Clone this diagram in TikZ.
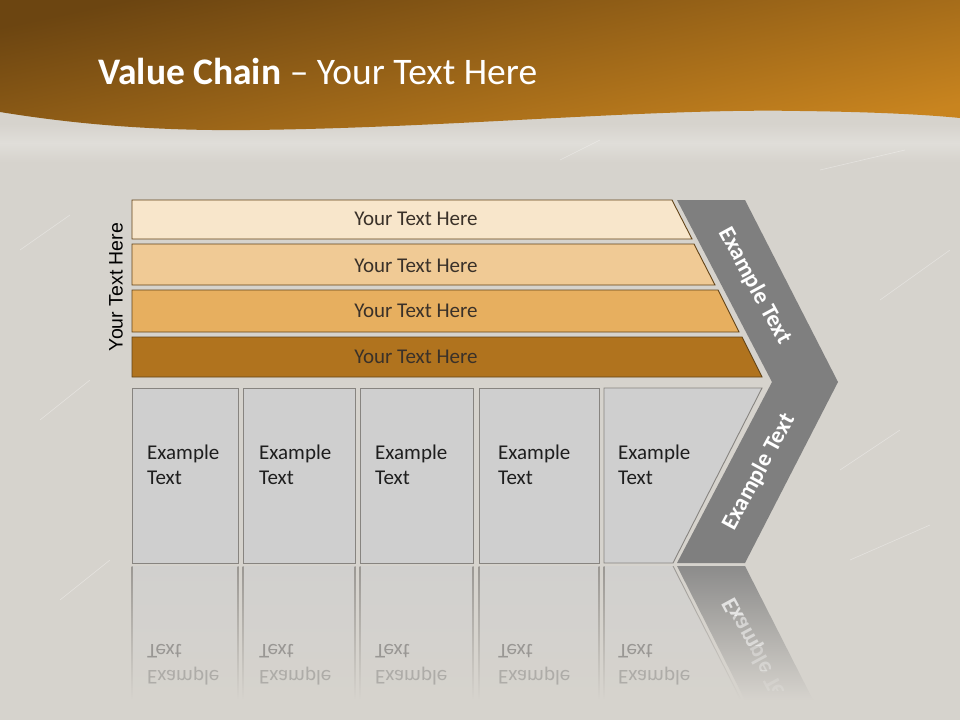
\documentclass[tikz,border=0pt]{standalone}
\usepackage{fontspec}
\setmainfont{Carlito}
\newfontfamily\arialf{Liberation Sans}
\definecolor{bg}{HTML}{D6D3CD}
\definecolor{bglight}{HTML}{E0DED9}
\definecolor{hdtop}{HTML}{6C4511}
\definecolor{hdbot}{HTML}{C8841F}
\definecolor{barA}{HTML}{F8E6CB}
\definecolor{barB}{HTML}{F0CA95}
\definecolor{barC}{HTML}{E7AF5F}
\definecolor{barD}{HTML}{B0731E}
\definecolor{barline}{HTML}{634418}
\definecolor{boxfill}{HTML}{CFCFCF}
\definecolor{boxline}{HTML}{878480}
\definecolor{chev}{HTML}{7F7F7F}
\definecolor{txt}{HTML}{1E1E1E}
\definecolor{bartxt}{HTML}{3A3129}
\definecolor{reflA}{HTML}{999794}
\definecolor{reflB}{HTML}{AEACA8}
\tikzset{
  barshape/.style={draw=barline, line width=0.9pt},
  boxshape/.style={draw=boxline, fill=boxfill, line width=0.9pt},
  bartext/.style={font=\fontsize{21}{24}\selectfont, text=bartxt, inner sep=0pt},
  boxtext/.style={font=\fontsize{21}{25.5}\selectfont, text=txt, align=left, anchor=west, inner sep=0pt},
  chevtext/.style={font=\bfseries\fontsize{23.5}{27}\selectfont, text=white, inner sep=0pt},
  refltext/.style={font=\fontsize{21}{25}\selectfont, anchor=west, inner sep=0pt, yscale=-1},
  reflfill/.style={top color=boxfill!70!bg, bottom color=bg},
  refledge/.style={top color=boxline!75!bg, bottom color=bg},
  scratch/.style={draw=white, opacity=0.35, line width=0.6pt}
}
\begin{document}
\begin{tikzpicture}[x=1pt,y=-1pt]
\useasboundingbox (0,0) rectangle (960,720);
% background
\fill[bg] (0,0) rectangle (960,720);
\shade[top color=bg, bottom color=bg, middle color=bglight] (0,124) rectangle (960,162);
% scratches
\draw[scratch] (820,170) -- (905,150);
\draw[scratch] (850,560) -- (930,525);
\draw[scratch] (40,420) -- (90,380);
\draw[scratch] (880,300) -- (950,250);
\draw[scratch] (20,250) -- (70,215);
\draw[scratch] (560,160) -- (600,140);
\draw[scratch] (840,470) -- (900,430);
\draw[scratch] (60,600) -- (110,560);
% header
\shade[top color=hdtop, bottom color=hdbot, shading angle=12]
  (0,0) -- (960,0) -- (960,118)
  .. controls (930,115) and (880,112) .. (800,111)
  .. controls (650,108) and (450,128) .. (250,130)
  .. controls (160,131) and (80,125) .. (0,112) -- cycle;
\node[anchor=base west, inner sep=0pt, text=white, font=\fontsize{37.5}{42}\selectfont] (title) at (98,84)
  {\textbf{Value Chain} – Your Text Here};
% bars
\fill[barA] (132,200) -- (672,200) -- (692,239) -- (132,239) -- cycle;
\draw[barshape] (132,200) -- (672,200) -- (692,239) -- (132,239) -- cycle;
\fill[barB] (132,244) -- (694,244) -- (715,285) -- (132,285) -- cycle;
\draw[barshape] (132,244) -- (694,244) -- (715,285) -- (132,285) -- cycle;
\fill[barC] (132,290) -- (718,290) -- (739,332) -- (132,332) -- cycle;
\draw[barshape] (132,290) -- (718,290) -- (739,332) -- (132,332) -- cycle;
\fill[barD] (132,337) -- (742,337) -- (762,377) -- (132,377) -- cycle;
\draw[barshape] (132,337) -- (742,337) -- (762,377) -- (132,377) -- cycle;
\node[bartext] (b1) at (416,219) {Your Text Here};
\node[bartext] (b2) at (416,266) {Your Text Here};
\node[bartext] (b3) at (416,311) {Your Text Here};
\node[bartext] (b4) at (416,357) {Your Text Here};
\node[font=\arialf\fontsize{19.5}{22}\selectfont, text=black, rotate=90, inner sep=0pt] (side) at (116,287) {Your Text Here};
% boxes
\draw[boxshape] (132,388) rectangle (238,563);
\draw[boxshape] (243,388) rectangle (355,563);
\draw[boxshape] (360,388) rectangle (473,563);
\draw[boxshape] (479,388) rectangle (599,563);
\draw[boxshape] (604,388) -- (762,388) -- (673,563) -- (604,563) -- cycle;
\node[boxtext] (t1) at (147,465) {Example\\Text};
\node[boxtext] (t2) at (259,465) {Example\\Text};
\node[boxtext] (t3) at (375,465) {Example\\Text};
\node[boxtext] (t4) at (498,465) {Example\\Text};
\node[boxtext] (t5) at (618,465) {Example\\Text};
% chevron
\fill[chev] (677,200) -- (745,200) -- (838,382) -- (745,563) -- (677,563) -- (772,382) -- cycle;
\node[chevtext, rotate=-61.5] (c1) at (755,286) {Example Text};
\node[chevtext, rotate=61.5] (c2) at (759,472) {Example Text};
% reflection of the boxes
\foreach \a/\b in {132/238, 243/355, 360/473, 479/599}{
  \shade[reflfill] (\a,566) rectangle (\b,700);
  \shade[refledge] (\a-0.5,566) rectangle (\a+0.5,700);
  \shade[refledge] (\b-0.5,566) rectangle (\b+0.5,700);
}
\shade[reflfill] (604,566) -- (673,566) -- (741,700) -- (604,700) -- cycle;
\shade[refledge] (603.5,566) rectangle (604.5,700);
\shade[refledge] (672.5,566) -- (673.5,566) -- (741.5,700) -- (740.5,700) -- cycle;
% reflection of the chevron arm
\shade[top color=chev!85!bg, bottom color=bg] (677,566) -- (745,566) -- (813,700) -- (745,700) -- cycle;
% reflected texts
\foreach \x/\n in {147/1, 259/2, 375/3, 498/4, 618/5}{
  \node[refltext, text=reflA] (rt\n) at (\x,651) {Text};
  \node[refltext, text=reflB] (re\n) at (\x,676) {Example};
}
\begin{scope}
  \clip (650,566) rectangle (900,615);
  \node[chevtext, yscale=-1, rotate=61.5, opacity=0.7] (rc1) at (759,656) {Example Text};
\end{scope}
\begin{scope}
  \clip (650,615) rectangle (900,645);
  \node[chevtext, yscale=-1, rotate=61.5, opacity=0.5] (rc2) at (759,656) {Example Text};
\end{scope}
\begin{scope}
  \clip (650,645) rectangle (900,670);
  \node[chevtext, yscale=-1, rotate=61.5, opacity=0.32] (rc3) at (759,656) {Example Text};
\end{scope}
\begin{scope}
  \clip (650,670) rectangle (900,690);
  \node[chevtext, yscale=-1, rotate=61.5, opacity=0.15] (rc4) at (759,656) {Example Text};
\end{scope}
\end{tikzpicture}
\end{document}
